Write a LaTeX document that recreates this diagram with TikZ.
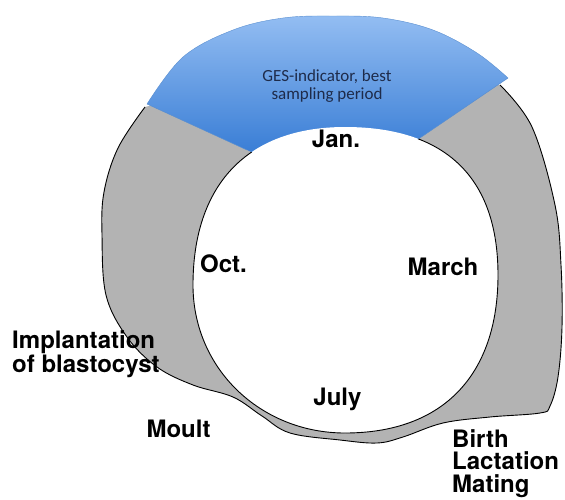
\documentclass[tikz,border=0pt]{standalone}
\usepackage{fontspec}
\setmainfont{TeX Gyre Heros}
\newfontfamily\carlito{Carlito}
\definecolor{ringgray}{HTML}{B3B3B3}
\definecolor{bluetop}{HTML}{93BDF2}
\definecolor{bluebot}{HTML}{1F6BCD}
\definecolor{bluedge}{HTML}{5A8FD0}
\definecolor{navy}{HTML}{1E2B4A}
\begin{document}
\begin{tikzpicture}[x=1pt,y=-1pt,
  lbl/.style={font=\bfseries\fontsize{24}{24}\selectfont, inner sep=0pt, text=black},
  gestext/.style={font=\carlito\fontsize{17}{18}\selectfont, text=navy, align=center, inner sep=0pt},
  outline/.style={draw=black, line width=0.9pt, line join=round}]
\useasboundingbox (0,0) rectangle (565,499);
% gray ring (fill)
\fill[ringgray] plot[smooth, tension=0.6] coordinates {
 (145,107) (118,148) (104,192) (102,235) (106,295) (127,337) (157,367) (193,385) (233,397)
 (262,416) (290,433) (340,440) (377,443) (403,437) (443,423) (490,417) (540,413)
 (550,406) (558,377) (562,327) (561,265) (555,205) (532,127) (500,85)} -- (330,60) -- cycle;
% outer outline
\draw[outline] plot[smooth, tension=0.6] coordinates {
 (145,107) (118,148) (104,192) (102,235) (106,295) (127,337) (157,367) (193,385) (233,397)
 (262,416) (290,433) (340,440) (377,443) (403,437) (443,423) (490,417) (540,413)
 (550,406) (558,377) (562,327) (561,265) (555,205) (532,127) (500,85)};
% blue sector (lower part later hidden by the white disc)
\shade[top color=bluetop, bottom color=bluebot]
 plot[smooth, tension=0.6] coordinates {(147,104) (183,57) (233,30) (283,18) (333,16)
 (383,18) (433,30) (477,53) (508,78)}
 -- (339.7,192.6) -- cycle;
\draw[bluedge, line width=0.5pt] (147,104) -- (247,150) (508,78) -- (417,140);
\draw[bluedge, line width=0.4pt] plot[smooth, tension=0.6] coordinates {(147,104) (183,57) (233,30) (283,18) (333,16)
 (383,18) (433,30) (477,53) (508,78)};
% inner white disc
\path[fill=white] (345,127) .. controls (444,127) and (498,176) .. (498,275)
 .. controls (498,374) and (444,433) .. (345,433)
 .. controls (261,433) and (193,369) .. (193,285)
 .. controls (193,186) and (246,127) .. (345,127) -- cycle;
\begin{scope}
\clip (0,499) -- (565,499) -- (565,39) -- (339.7,192.6) -- (0,36.4) -- cycle;
\draw[outline] (345,127) .. controls (444,127) and (498,176) .. (498,275)
 .. controls (498,374) and (444,433) .. (345,433)
 .. controls (261,433) and (193,369) .. (193,285)
 .. controls (193,186) and (246,127) .. (345,127) -- cycle;
\end{scope}
% texts
\node[gestext, anchor=north] (ges) at (327,69) {GES-indicator, best\\sampling period};
\node[lbl, anchor=base] (jan) at (336,147) {Jan.};
\node[lbl, anchor=base] (oct) at (223.5,272) {Oct.};
\node[lbl, anchor=base] (march) at (443,275) {March};
\node[lbl, anchor=base] (july) at (337.5,405) {July};
\node[lbl, anchor=base] (moult) at (178.5,437) {Moult};
\node[lbl, align=left, anchor=north west] (impl) at (12,330) {Implantation\\of blastocyst};
\node[lbl, align=left, anchor=north west, font=\bfseries\fontsize{24}{22.5}\selectfont] (birth) at (452,429) {Birth\\Lactation\\Mating};
\end{tikzpicture}
\end{document}
